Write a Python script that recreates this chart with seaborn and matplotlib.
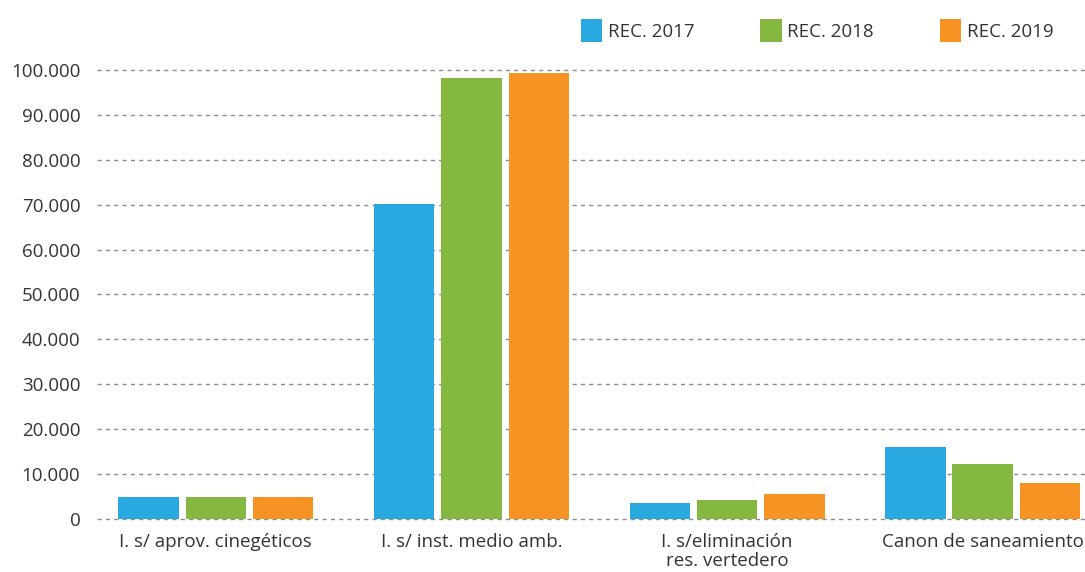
import numpy as np
import pandas as pd
import matplotlib.pyplot as plt
import seaborn as sns

# data
categories = [
    "I. s/ aprov. cinegéticos",
    "I. s/ inst. medio amb.",
    "I. s/eliminación\nres. vertedero",
    "Canon de saneamiento",
]
series = ["REC. 2017", "REC. 2018", "REC. 2019"]
rec_2017 = [4900, 70200, 3600, 16100]
rec_2018 = [4900, 98200, 4200, 12200]
rec_2019 = [4900, 99300, 5600, 8100]
yticks = np.arange(0, 100001, 10000)
colors = ["#29a9e0", "#84b840", "#f69322"]

df = pd.DataFrame({
    "categoria": categories * 3,
    "serie": np.repeat(series, len(categories)),
    "valor": rec_2017 + rec_2018 + rec_2019,
})

sns.set_style("white")
plt.rcParams["font.family"] = ["Open Sans", "DejaVu Sans"]
text_color = "#333333"

fig = plt.figure(figsize=(10.85, 5.72), dpi=100)
ax = fig.add_axes([0.0894, 0.0927, 0.9106, 0.785])

sns.barplot(
    data=df, x="categoria", y="valor", hue="serie",
    palette=colors, width=0.79, gap=0.1, saturation=1,
    edgecolor="none", ax=ax, legend=True,
)

ax.set_xlim(-0.465, 3.4)
ax.set_ylim(0, 100000)
ax.set_yticks(yticks)
ax.set_yticklabels(["0" if v == 0 else f"{v:,}".replace(",", ".") for v in yticks])
ax.yaxis.grid(True, color="#8c8c8c", linestyle=(0, (3, 3)), linewidth=1.0)
for gl in ax.get_ygridlines():
    gl.set_clip_on(False)
ax.set_axisbelow(True)
for s in ax.spines.values():
    s.set_visible(False)
ax.set_xlabel("")
ax.set_ylabel("")
ax.tick_params(axis="y", length=0, pad=12, labelsize=13.5, labelcolor=text_color)
ax.tick_params(axis="x", length=0, pad=10, labelsize=13.5, labelcolor=text_color)
for lbl in ax.get_xticklabels():
    lbl.set_linespacing(1.1)

handles, labels = ax.get_legend_handles_labels()
ax.legend(
    handles, labels, loc="center", bbox_to_anchor=(0.753, 0.946),
    bbox_transform=fig.transFigure, ncol=3, frameon=False,
    fontsize=13.5, labelcolor=text_color, handlelength=1.15, handleheight=1.5,
    handletextpad=0.3, columnspacing=3.5,
)

fig.savefig("out.png", dpi=100)
plt.close()
